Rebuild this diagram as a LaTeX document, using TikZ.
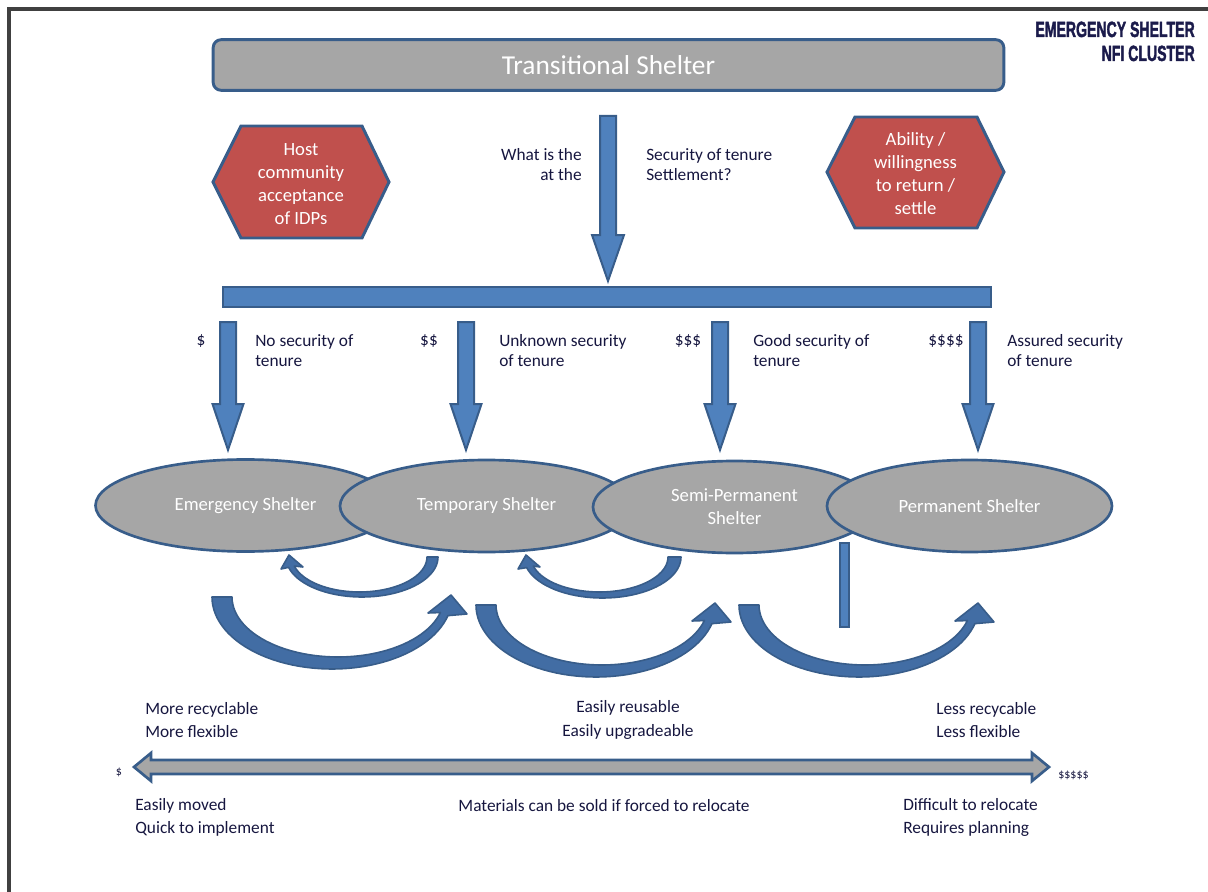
\documentclass[tikz,border=0pt]{standalone}
\usepackage{fontspec}
\usepackage{graphicx}
\usetikzlibrary{shapes.geometric}
\setmainfont{Carlito}
\newfontfamily\logofont{Liberation Sans}[BoldFeatures={FakeBold=2.2}]
\definecolor{bluefill}{HTML}{4F81BD}
\definecolor{blueedge}{HTML}{385D8A}
\definecolor{curvefill}{HTML}{426DA4}
\definecolor{redfill}{HTML}{C0504D}
\definecolor{grayfill}{HTML}{A6A6A6}
\definecolor{navy}{HTML}{16163F}
\definecolor{logonavy}{HTML}{1B1B4B}
\definecolor{framegray}{HTML}{404040}
\tikzset{
  bluearrow/.style={fill=bluefill, draw=blueedge, line width=1.5pt, line join=miter},
  curvearrow/.style={fill=curvefill, draw=blueedge, line width=1.2pt, line join=round},
  hexshape/.style={fill=redfill, draw=blueedge, line width=2.2pt},
  hextext/.style={text=white, align=center, inner sep=0pt, font=\fontsize{14}{17.25}\selectfont},
  shelter/.style={ellipse, fill=grayfill, draw=blueedge, line width=2pt, inner sep=0pt,
     text=white, align=center, font=\fontsize{14}{17.25}\selectfont},
  lbl/.style={text=navy, align=left, inner sep=0pt, font=\fontsize{13}{15}\selectfont},
  lblwide/.style={text=navy, align=left, inner sep=0pt, font=\fontsize{13}{17.6}\selectfont},
  small/.style={text=navy, inner sep=0pt, font=\fontsize{9}{11}\selectfont},
  logo/.style={text=logonavy, inner sep=0pt, font=\logofont\bfseries\fontsize{16.5}{18}\selectfont},
  titlebox/.style={rectangle, rounded corners=6pt, fill=grayfill, draw=blueedge, line width=2.2pt,
     text=white, font=\fontsize{20.5}{24}\selectfont, minimum width=593pt, minimum height=38pt},
}
\begin{document}
\begin{tikzpicture}[x=0.75pt, y=-0.75pt]
\useasboundingbox (0,0) rectangle (1208,892);
% frame
\draw[framegray, line width=2.4pt] (9,905) -- (9,9) -- (1215,9);
% logo
\node[logo, anchor=base east] (logoA) at (1195,37) {\scalebox{0.64}[1]{EMERGENCY SHELTER}};
\node[logo, anchor=base east] (logoB) at (1195,61) {\scalebox{0.64}[1]{NFI CLUSTER}};
% title
\node[titlebox] (title) at (608.5,65) {Transitional Shelter};
% hexagons
\draw[hexshape] (213,182) -- (241,126) -- (362,126) -- (389,182) -- (362,238) -- (241,238) -- cycle;
\node[hextext] (host) at (301,184) {Host\\community\\acceptance\\of IDPs};
\draw[hexshape] (827,172) -- (855,117) -- (977,117) -- (1004,172) -- (977,228) -- (855,228) -- cycle;
\node[hextext] (ability) at (915.5,174) {Ability /\\willingness\\to return /\\settle};
% central arrow
\draw[bluearrow] (600,116) -- (616,116) -- (616,235) -- (624,235) -- (608,281) -- (592,235) -- (600,235) -- cycle;
\node[lbl, align=right, anchor=east] (q1) at (582,165) {What is the\\at the};
\node[lbl, anchor=west] (q2) at (646,165) {Security of tenure\\Settlement?};
% bar
\draw[bluearrow] (223,287) rectangle (991,307);
% four arrows
\foreach \c in {228,466,720,978} {
  \draw[bluearrow] (\c-8,322) -- (\c+8,322) -- (\c+8,404) -- (\c+15.5,404) -- (\c,450) -- (\c-15.5,404) -- (\c-8,404) -- cycle;
}
\node[lbl] (d1) at (201,341) {\$};
\node[lbl, anchor=west] (t1) at (255,351) {No security of\\tenure};
\node[lbl] (d2) at (429,341) {\$\$};
\node[lbl, anchor=west] (t2) at (499,351) {Unknown security\\of tenure};
\node[lbl] (d3) at (688,341) {\$\$\$};
\node[lbl, anchor=west] (t3) at (753,351) {Good security of\\tenure};
\node[lbl] (d4) at (946,341) {\$\$\$\$};
\node[lbl, anchor=west] (t4) at (1007,351) {Assured security\\of tenure};
% shelters
\node[shelter, minimum width=225pt, minimum height=69pt] (emerg) at (245.5,505.5) {Emergency Shelter};
\node[shelter, minimum width=219.75pt, minimum height=69pt] (temp) at (486.5,506) {Temporary Shelter};
\node[shelter, minimum width=212.25pt, minimum height=69pt] (semi) at (734.5,507) {Semi-Permanent\\Shelter};
\node[shelter, minimum width=213.75pt, minimum height=69pt] (perm) at (969.5,506) {Permanent Shelter};
% small bar
\draw[bluearrow] (840,543) rectangle (849,627);
% small curved arrows (pointing left)
\draw[curvearrow] plot[domain=0:165, samples=40] ({362+76*cos(\x)},{557+40*sin(\x)})
  -- (281,569) -- (289,555) -- (303,567)
  -- plot[domain=165:0, samples=40] ({359.5+67.5*cos(\x)},{557+35*sin(\x)}) -- cycle;
\draw[curvearrow] plot[domain=0:165, samples=40] ({602.5+78.5*cos(\x)},{557+41*sin(\x)})
  -- (518,569) -- (526,555) -- (540,567)
  -- plot[domain=165:0, samples=40] ({599.5+68.5*cos(\x)},{557+35*sin(\x)}) -- cycle;
% big curved arrows (pointing right)
\foreach \sx/\sy in {0/0, 264/8, 527/8} {
  \begin{scope}[shift={(\sx,\sy)}]
  \draw[curvearrow] plot[domain=180:15, samples=50] ({332+120*cos(\x)},{597+72*sin(\x)})
    -- (467,614) -- (451,595) -- (428,613)
    -- plot[domain=15:180, samples=50] ({338+106*cos(\x)},{597+60*sin(\x)}) -- cycle;
  \end{scope}
}
% bottom texts
\node[lblwide, anchor=west] (b1) at (145,720) {More recyclable\\More flexible};
\node[lblwide, align=center] (b2) at (628,720) {Easily reusable\\Easily upgradeable};
\node[lblwide, anchor=west] (b3) at (936,720) {Less recycable\\Less flexible};
% double arrow
\draw[bluearrow, fill=grayfill, line width=2pt] (134,767) -- (151,753) -- (151,760) -- (1032,760) -- (1032,753) -- (1049,767) -- (1032,781) -- (1032,774) -- (151,774) -- (151,781) -- cycle;
\node[small] (cheap) at (119,772) {\$};
\node[small, anchor=west] (dear) at (1058,775) {\$\$\$\$\$};
\node[lblwide, anchor=west] (c1) at (135,817.5) {Easily moved\\Quick to implement};
\node[lblwide] (c2) at (604,806) {Materials can be sold if forced to relocate};
\node[lblwide, anchor=west] (c3) at (903,817.5) {Difficult to relocate\\Requires planning};
\end{tikzpicture}
\end{document}
